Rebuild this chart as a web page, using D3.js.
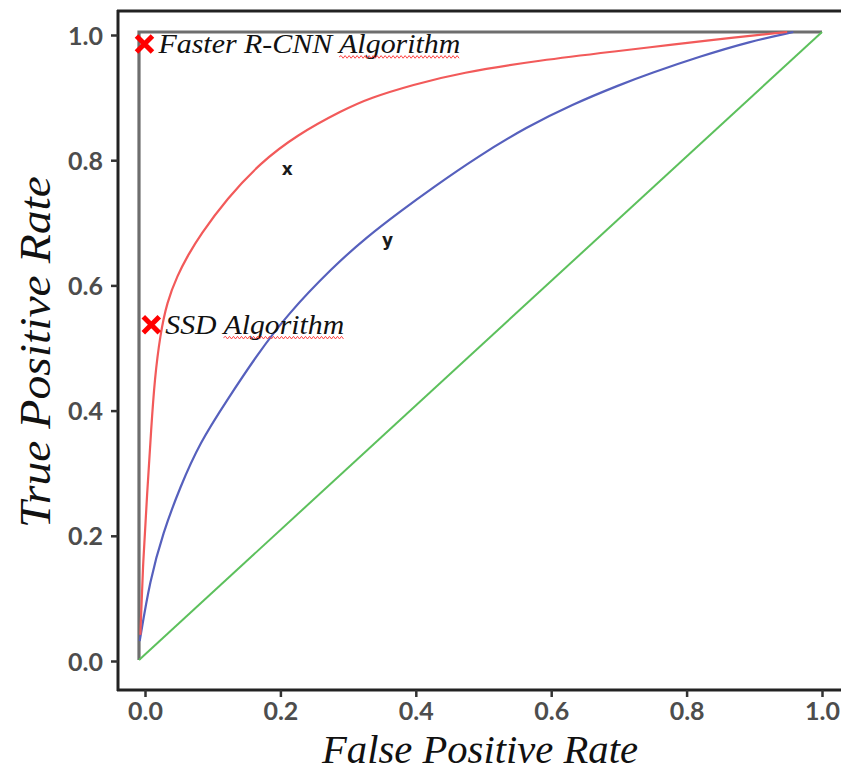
<!DOCTYPE html>
<html>
<head>
<meta charset="utf-8">
<script src="https://cdn.jsdelivr.net/npm/d3@7"></script>
<style>
  html, body { margin: 0; padding: 0; background: #fff; }
  svg { display: block; }
</style>
</head>
<body>
<svg id="chart" width="841" height="772"></svg>
<script>
// ---------------- data ----------------
const tickValues = [0, 0.2, 0.4, 0.6, 0.8, 1.0];
const tickLabels = ["0.0", "0.2", "0.4", "0.6", "0.8", "1.0"];

// Faster R-CNN ROC curve (red)
const redFPR = [0.002, 0.006, 0.012, 0.018, 0.023, 0.031, 0.041, 0.056, 0.072, 0.089, 0.129, 0.177, 0.231, 0.299, 0.338, 0.401, 0.470, 0.587, 0.704, 0.773, 0.870, 0.949];
const redTPR = [0.040, 0.159, 0.266, 0.371, 0.448, 0.518, 0.570, 0.612, 0.645, 0.676, 0.735, 0.791, 0.836, 0.876, 0.895, 0.916, 0.935, 0.955, 0.970, 0.979, 0.991, 1.000];

// SSD ROC curve (blue)
const blueFPR = [0.001, 0.016, 0.035, 0.060, 0.089, 0.129, 0.173, 0.217, 0.284, 0.334, 0.382, 0.430, 0.495, 0.568, 0.635, 0.704, 0.748, 0.821, 0.895, 0.958];
const blueTPR = [0.030, 0.127, 0.202, 0.275, 0.346, 0.414, 0.486, 0.550, 0.626, 0.674, 0.714, 0.752, 0.801, 0.849, 0.885, 0.916, 0.934, 0.961, 0.985, 1.000];

// random classifier (green)
const greenFPR = [0, 1];
const greenTPR = [0, 1];

// perfect classifier (gray)
const perfectFPR = [0, 0, 1];
const perfectTPR = [0, 1, 1];

// annotations
const markerNames = ["Faster R-CNN Algorithm", "SSD Algorithm"];
const markerFPR = [0.008, 0.018];
const markerTPR = [0.981, 0.534];
const curveLabels = ["x", "y"];
const curveLabelFPR = [0.217, 0.364];
const curveLabelTPR = [0.781, 0.668];

// ---------------- drawing ----------------
const svg = d3.select("#chart");

const x = d3.scaleLinear().domain([0, 1]).range([139, 822]);
const y = d3.scaleLinear().domain([0, 1]).range([660, 32]);
const xAxisScale = d3.scaleLinear().domain([0, 1]).range([145, 822]);
const yAxisScale = d3.scaleLinear().domain([0, 1]).range([661, 35]);

// spines
const spineColor = "#222";
svg.append("line").attr("x1", 118).attr("x2", 118).attr("y1", 10).attr("y2", 691)
  .attr("stroke", spineColor).attr("stroke-width", 3);
svg.append("line").attr("x1", 117).attr("x2", 841).attr("y1", 11).attr("y2", 11)
  .attr("stroke", spineColor).attr("stroke-width", 3);
svg.append("line").attr("x1", 117).attr("x2", 841).attr("y1", 690).attr("y2", 690)
  .attr("stroke", spineColor).attr("stroke-width", 3);

const tickFmt = (d, i) => tickLabels[i];

const yAxis = svg.append("g").attr("transform", "translate(118,0)")
  .call(d3.axisLeft(yAxisScale).tickValues(tickValues).tickFormat(tickFmt).tickSize(7).tickPadding(8));
const xAxis = svg.append("g").attr("transform", "translate(0,690)")
  .call(d3.axisBottom(xAxisScale).tickValues(tickValues).tickFormat(tickFmt).tickSize(7).tickPadding(5));

[yAxis, xAxis].forEach(g => {
  g.select(".domain").remove();
  g.selectAll(".tick line").attr("stroke", "#333").attr("stroke-width", 2.5);
  g.selectAll(".tick text")
    .attr("fill", "#4d4d4d")
    .style("font-family", "Lato, 'Open Sans', sans-serif")
    .style("font-weight", "700")
    .style("font-size", "25px");
});
yAxis.selectAll(".tick text").attr("dy", "0.36em");
xAxis.selectAll(".tick text").attr("dy", "0.72em");

const line = d3.line().x(d => x(d[0])).y(d => y(d[1]));
const zip = (a, b) => a.map((v, i) => [v, b[i]]);

// perfect classifier
svg.append("path").datum(zip(perfectFPR, perfectTPR))
  .attr("d", line).attr("fill", "none")
  .attr("stroke", "#6e6e6e").attr("stroke-width", 3.2);

// random classifier
svg.append("path").datum(zip(greenFPR, greenTPR))
  .attr("d", line).attr("fill", "none")
  .attr("stroke", "#5cc05c").attr("stroke-width", 2);

const smooth = d3.line().x(d => x(d[0])).y(d => y(d[1])).curve(d3.curveBasis);

svg.append("path").datum(zip(blueFPR, blueTPR))
  .attr("d", smooth).attr("fill", "none")
  .attr("stroke", "#5660bd").attr("stroke-width", 2.2);

svg.append("path").datum(zip(redFPR, redTPR))
  .attr("d", smooth).attr("fill", "none")
  .attr("stroke", "#f25a5a").attr("stroke-width", 2.2);

// curve labels x, y
svg.selectAll(".clabel").data(curveLabels).join("text")
  .attr("class", "clabel")
  .attr("x", (d, i) => x(curveLabelFPR[i]))
  .attr("y", (d, i) => y(curveLabelTPR[i]))
  .attr("text-anchor", "middle")
  .attr("dy", "0.35em")
  .style("font-family", "'DejaVu Sans', sans-serif")
  .style("font-weight", "700")
  .style("font-size", "17px")
  .attr("fill", "#1a1a1a")
  .text(d => d);

// red X markers with names
const markerSize = 8;
const nameWidths = [302, 179];
markerNames.forEach((name, i) => {
  const cx = x(markerFPR[i]), cy = y(markerTPR[i]);
  const g = svg.append("g").attr("transform", `translate(${cx},${cy})`);
  g.append("path")
    .attr("d", `M${-markerSize},${-markerSize}L${markerSize},${markerSize}M${markerSize},${-markerSize}L${-markerSize},${markerSize}`)
    .attr("stroke", "#ff0000").attr("stroke-width", 5).attr("stroke-linecap", "butt");
  const t = svg.append("text")
    .attr("x", cx + 14)
    .attr("y", cy + 9)
    .attr("textLength", nameWidths[i]).attr("lengthAdjust", "spacingAndGlyphs")
    .style("font-family", "'Liberation Serif', 'Times New Roman', serif")
    .style("font-style", "italic")
    .style("font-size", "27px")
    .attr("fill", "#111");
  const words = name.split(" ");
  const last = words.pop();
  t.append("tspan").text(words.join(" ") + " ");
  t.append("tspan").text(last);
  // red spell-check squiggle under the last word
  const node = t.node();
  const nChars = name.length;
  const start = node.getStartPositionOfChar(nChars - last.length).x;
  const end = node.getEndPositionOfChar(nChars - 1).x;
  let p = `M${start},${cy + 13}`;
  let k = 0;
  for (let xx = start + 2; xx <= end; xx += 2) {
    k++;
    p += `L${xx},${cy + 13 + (k % 2 ? -1.3 : 1.3)}`;
  }
  svg.append("path").attr("d", p).attr("fill", "none")
    .attr("stroke", "#ff3030").attr("stroke-width", 0.9);
});

// axis titles
svg.append("text")
  .attr("x", 480).attr("y", 763)
  .attr("text-anchor", "middle")
  .attr("textLength", 316).attr("lengthAdjust", "spacingAndGlyphs")
  .style("font-family", "'Liberation Serif', 'Times New Roman', serif")
  .style("font-style", "italic")
  .style("font-size", "40px")
  .attr("fill", "#111")
  .text("False Positive Rate");

svg.append("text")
  .attr("transform", "translate(50,352) rotate(-90)")
  .attr("text-anchor", "middle")
  .attr("textLength", 352).attr("lengthAdjust", "spacingAndGlyphs")
  .style("font-family", "'Liberation Serif', 'Times New Roman', serif")
  .style("font-style", "italic")
  .style("font-size", "44px")
  .attr("fill", "#111")
  .text("True Positive Rate");
</script>
</body>
</html>
